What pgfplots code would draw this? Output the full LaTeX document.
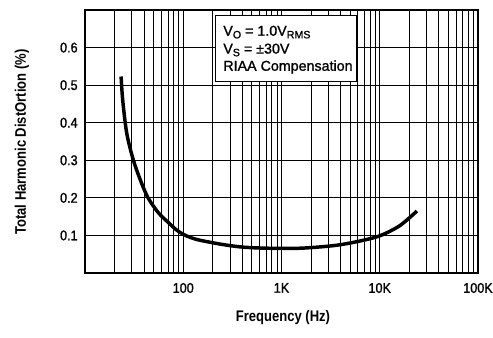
\documentclass[border=0pt]{standalone}
\usepackage{fontspec}
\setmainfont{Liberation Sans}
\newfontfamily\labelfont[FakeStretch=0.85]{Liberation Sans}
\newfontfamily\tickfont[FakeStretch=0.9,FakeBold=1.2]{Liberation Sans}
\newfontfamily\boxfont[FakeBold=1.2]{Liberation Sans}
\usepackage{pgfplots}
\pgfplotsset{compat=1.18}
\newcommand{\sub}[1]{\raisebox{-0.35ex}{\fontsize{8}{9}\selectfont #1}}
\begin{document}
\begin{tikzpicture}
\begin{axis}[
  scale only axis,
  width=294.75pt, height=197.25pt,
  xmode=log,
  xmin=10, xmax=100000,
  ymin=0, ymax=0.7,
  xtick={10,100,1000,10000,100000},
  xticklabels={,100,1K,10K,100K},
  ytick={0.1,0.2,0.3,0.4,0.5,0.6},
  yticklabels={0.1,0.2,0.3,0.4,0.5,0.6},
  minor x tick num=8,
  grid=both,
  major grid style={black, line width=0.75pt},
  minor grid style={black, line width=0.75pt},
  major tick length=0pt, minor tick length=0pt,
  axis line style={black, line width=1.2pt},
  tick label style={font=\tickfont\fontsize{10.5}{12}\selectfont},
  xticklabel style={yshift=-4pt},
  yticklabel style={xshift=-2pt},
  /pgf/number format/assume math mode=true,
  clip=false,
]
\addplot[black, line width=2.6pt, smooth] coordinates {
(23.3,0.523) (24.2,0.46) (26.6,0.372) (31.1,0.30) (37.8,0.238) (44.3,0.198)
(56,0.160) (70.8,0.134) (85,0.115) (100,0.103) (120,0.094) (149,0.087) (250,0.076)
(400,0.069) (714,0.066) (1563,0.066) (3420,0.073) (6000,0.084)
(10000,0.099) (16000,0.126) (23900,0.165)
};
\draw[fill=white, line width=0.5pt] (rel axis cs:0.331,0.730) rectangle (rel axis cs:0.690,0.981);
\node[anchor=west, inner sep=0pt, font=\boxfont\fontsize{10.7}{12}\selectfont] at (rel axis cs:0.331,0.916) [xshift=6pt] {V\sub{O} = 1.0V\sub{RMS}};
\node[anchor=west, inner sep=0pt, font=\boxfont\fontsize{10.7}{12}\selectfont] at (rel axis cs:0.331,0.848) [xshift=6pt] {V\sub{S} = ±30V};
\node[anchor=west, inner sep=0pt, font=\boxfont\fontsize{10.7}{12}\selectfont] at (rel axis cs:0.331,0.783) [xshift=6pt] {RIAA Compensation};
\end{axis}
\node[rotate=90, font=\labelfont\bfseries\fontsize{11.5}{13}\selectfont] at (-47.25pt,98.25pt) {Total Harmonic DistOrtion (\%)};
\node[font=\labelfont\bfseries\fontsize{11.5}{13}\selectfont] at (148.5pt,-33.75pt) {Frequency (Hz)};
\pgfresetboundingbox
\useasboundingbox (-63.75pt,-48pt) rectangle (306pt,204.75pt);
\end{tikzpicture}
\end{document}
